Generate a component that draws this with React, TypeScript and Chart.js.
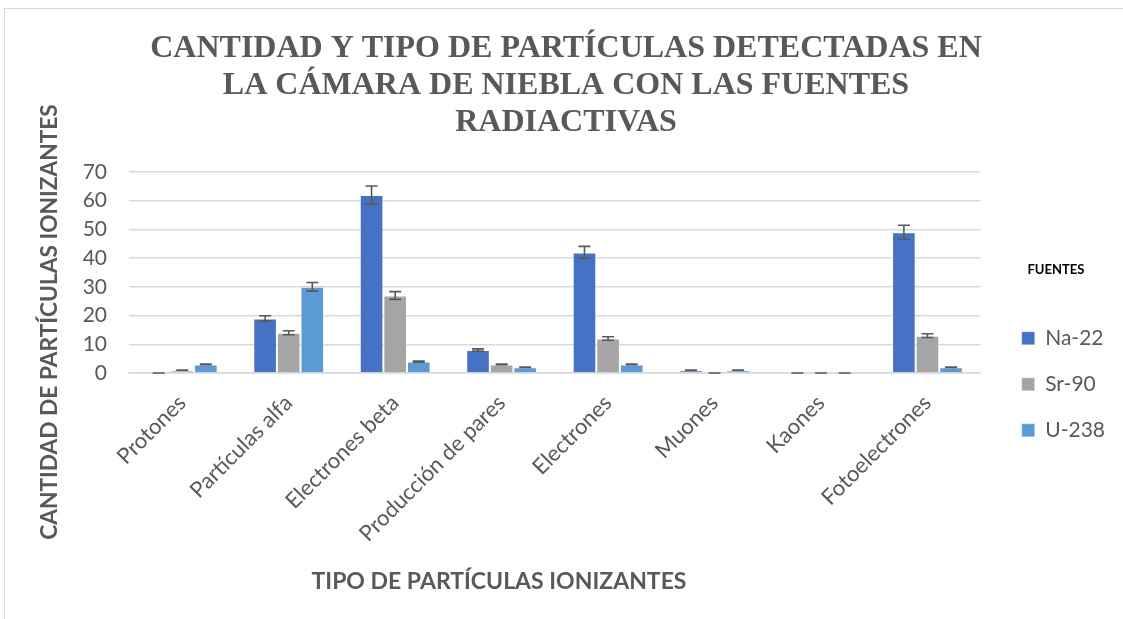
import React, { useEffect, useRef } from 'react';
import { Chart, registerables } from 'chart.js';

Chart.register(...registerables);

const categories = [
  'Protones',
  'Partículas alfa',
  'Electrones beta',
  'Producción de pares',
  'Electrones',
  'Muones',
  'Kaones',
  'Fotoelectrones',
];
const na22 = [0, 19, 62, 8, 42, 1, 0, 49];
const sr90 = [1, 14, 27, 3, 12, 0, 0, 13];
const u238 = [3, 30, 4, 2, 3, 1, 0, 2];
const na22Err = [0, 0.95, 3.1, 0.4, 2.1, 0.05, 0, 2.45];
const sr90Err = [0.05, 0.7, 1.35, 0.15, 0.6, 0, 0, 0.65];
const u238Err = [0.15, 1.5, 0.2, 0.1, 0.15, 0.05, 0, 0.1];
const seriesNames = ['Na-22', 'Sr-90', 'U-238'];
const yMin = 0;
const yMax = 70;
const yStep = 10;

const titleLines = [
  'CANTIDAD Y TIPO DE PARTÍCULAS DETECTADAS EN',
  'LA CÁMARA DE NIEBLA CON LAS FUENTES',
  'RADIACTIVAS',
];
const xTitle = 'TIPO DE PARTÍCULAS IONIZANTES';
const yTitle = 'CANTIDAD DE PARTÍCULAS IONIZANTES';
const legendTitle = 'FUENTES';

const errors = [na22Err, sr90Err, u238Err];

const errorBarPlugin = {
  id: 'errorBars',
  afterDatasetsDraw(chart: any) {
    const ctx = chart.ctx;
    const yScale = chart.scales.y;
    ctx.save();
    ctx.strokeStyle = '#595959';
    ctx.lineWidth = 1.6;
    chart.data.datasets.forEach((ds: any, di: number) => {
      const meta = chart.getDatasetMeta(di);
      if (meta.hidden) return;
      meta.data.forEach((bar: any, i: number) => {
        const v = ds.data[i];
        const e = errors[di][i];
        const x = bar.x;
        const yTop = yScale.getPixelForValue(v + e);
        const yBot = yScale.getPixelForValue(Math.max(v - e, 0));
        const half = 6;
        ctx.beginPath();
        ctx.moveTo(x, yTop);
        ctx.lineTo(x, yBot);
        ctx.moveTo(x - half, yTop);
        ctx.lineTo(x + half, yTop);
        ctx.moveTo(x - half, yBot);
        ctx.lineTo(x + half, yBot);
        ctx.stroke();
      });
    });
    ctx.restore();
  },
};

const axisTitlePlugin = {
  id: 'axisTitles',
  afterDraw(chart: any) {
    const ctx = chart.ctx;
    ctx.save();
    ctx.fillStyle = '#595959';
    ctx.textAlign = 'center';
    ctx.textBaseline = 'middle';
    ctx.font = 'bold 23px Lato';
    ctx.fillText(xTitle, 499, 582);
    ctx.translate(50, 322);
    ctx.rotate(-Math.PI / 2);
    ctx.font = 'bold 22.7px Lato';
    ctx.fillText(yTitle, 0, 0);
    ctx.restore();
  },
};

const legendShiftPlugin = {
  id: 'legendShift',
  afterLayout(chart: any) {
    const l = chart.legend;
    if (l) {
      l.left += 16;
      l.right += 16;
    }
  },
};

export default function App() {
  const ref = useRef<HTMLCanvasElement>(null);
  useEffect(() => {
    const colors = ['#4472C4', '#A5A5A5', '#5B9BD5'];
    const values = [na22, sr90, u238];
    const chart = new Chart(ref.current as HTMLCanvasElement, {
      type: 'bar',
      data: {
        labels: categories,
        datasets: seriesNames.map((name, i) => ({
          label: name,
          data: values[i],
          backgroundColor: colors[i],
          borderColor: 'rgba(255,255,255,0.35)',
          borderWidth: 1,
          categoryPercentage: 0.665,
          barPercentage: 1,
        })),
      },
      options: {
        responsive: false,
        animation: false,
        layout: { padding: { top: 12, left: 33, right: 24, bottom: 70 } },
        plugins: {
          title: {
            display: true,
            text: titleLines,
            color: '#595959',
            font: { family: 'Liberation Serif', size: 32, weight: 'bold', lineHeight: 1.156 },
            padding: { top: 18, bottom: 31 },
          },
          legend: {
            display: true,
            position: 'right',
            align: 'center',
            title: {
              display: true,
              text: legendTitle,
              color: '#000000',
              font: { family: 'Lato', size: 13, weight: 'bold' },
              padding: { top: 168, bottom: 24 },
            },
            labels: {
              color: '#595959',
              font: { family: 'Lato', size: 21 },
              boxWidth: 13,
              boxHeight: 13,
              padding: 25,
            },
          },
          tooltip: { enabled: false },
        },
        scales: {
          x: {
            grid: { display: false },
            border: { display: true, color: '#d9d9d9', width: 1.5 },
            ticks: {
              color: '#595959',
              font: { family: 'Lato', size: 22 },
              minRotation: 45,
              maxRotation: 45,
              autoSkip: false,
              padding: 9,
            },
            afterFit: (s: any) => {
              s.height = 176;
            },
          },
          y: {
            min: yMin,
            max: yMax,
            ticks: {
              stepSize: yStep,
              color: '#595959',
              font: { family: 'Lato', size: 21 },
              padding: 22,
            },
            grid: { color: '#d9d9d9', lineWidth: 1.5, drawTicks: false },
            border: { display: false },
            afterFit: (s: any) => {
              s.width = 96;
            },
          },
        },
      },
      plugins: [errorBarPlugin, axisTitlePlugin, legendShiftPlugin],
    });
    return () => chart.destroy();
  }, []);
  return (
    <div style={{ position: 'fixed', left: 0, top: 0, width: 1123, height: 619, background: '#ffffff', overflow: 'hidden' }}>
      <div style={{ position: 'absolute', left: 4, top: 8, width: 1130, height: 620, border: '1px solid #d9d9d9' }} />
      <canvas ref={ref} width={1123} height={619} style={{ position: 'absolute', left: 0, top: 0, width: 1123, height: 619 }} />
    </div>
  );
}
